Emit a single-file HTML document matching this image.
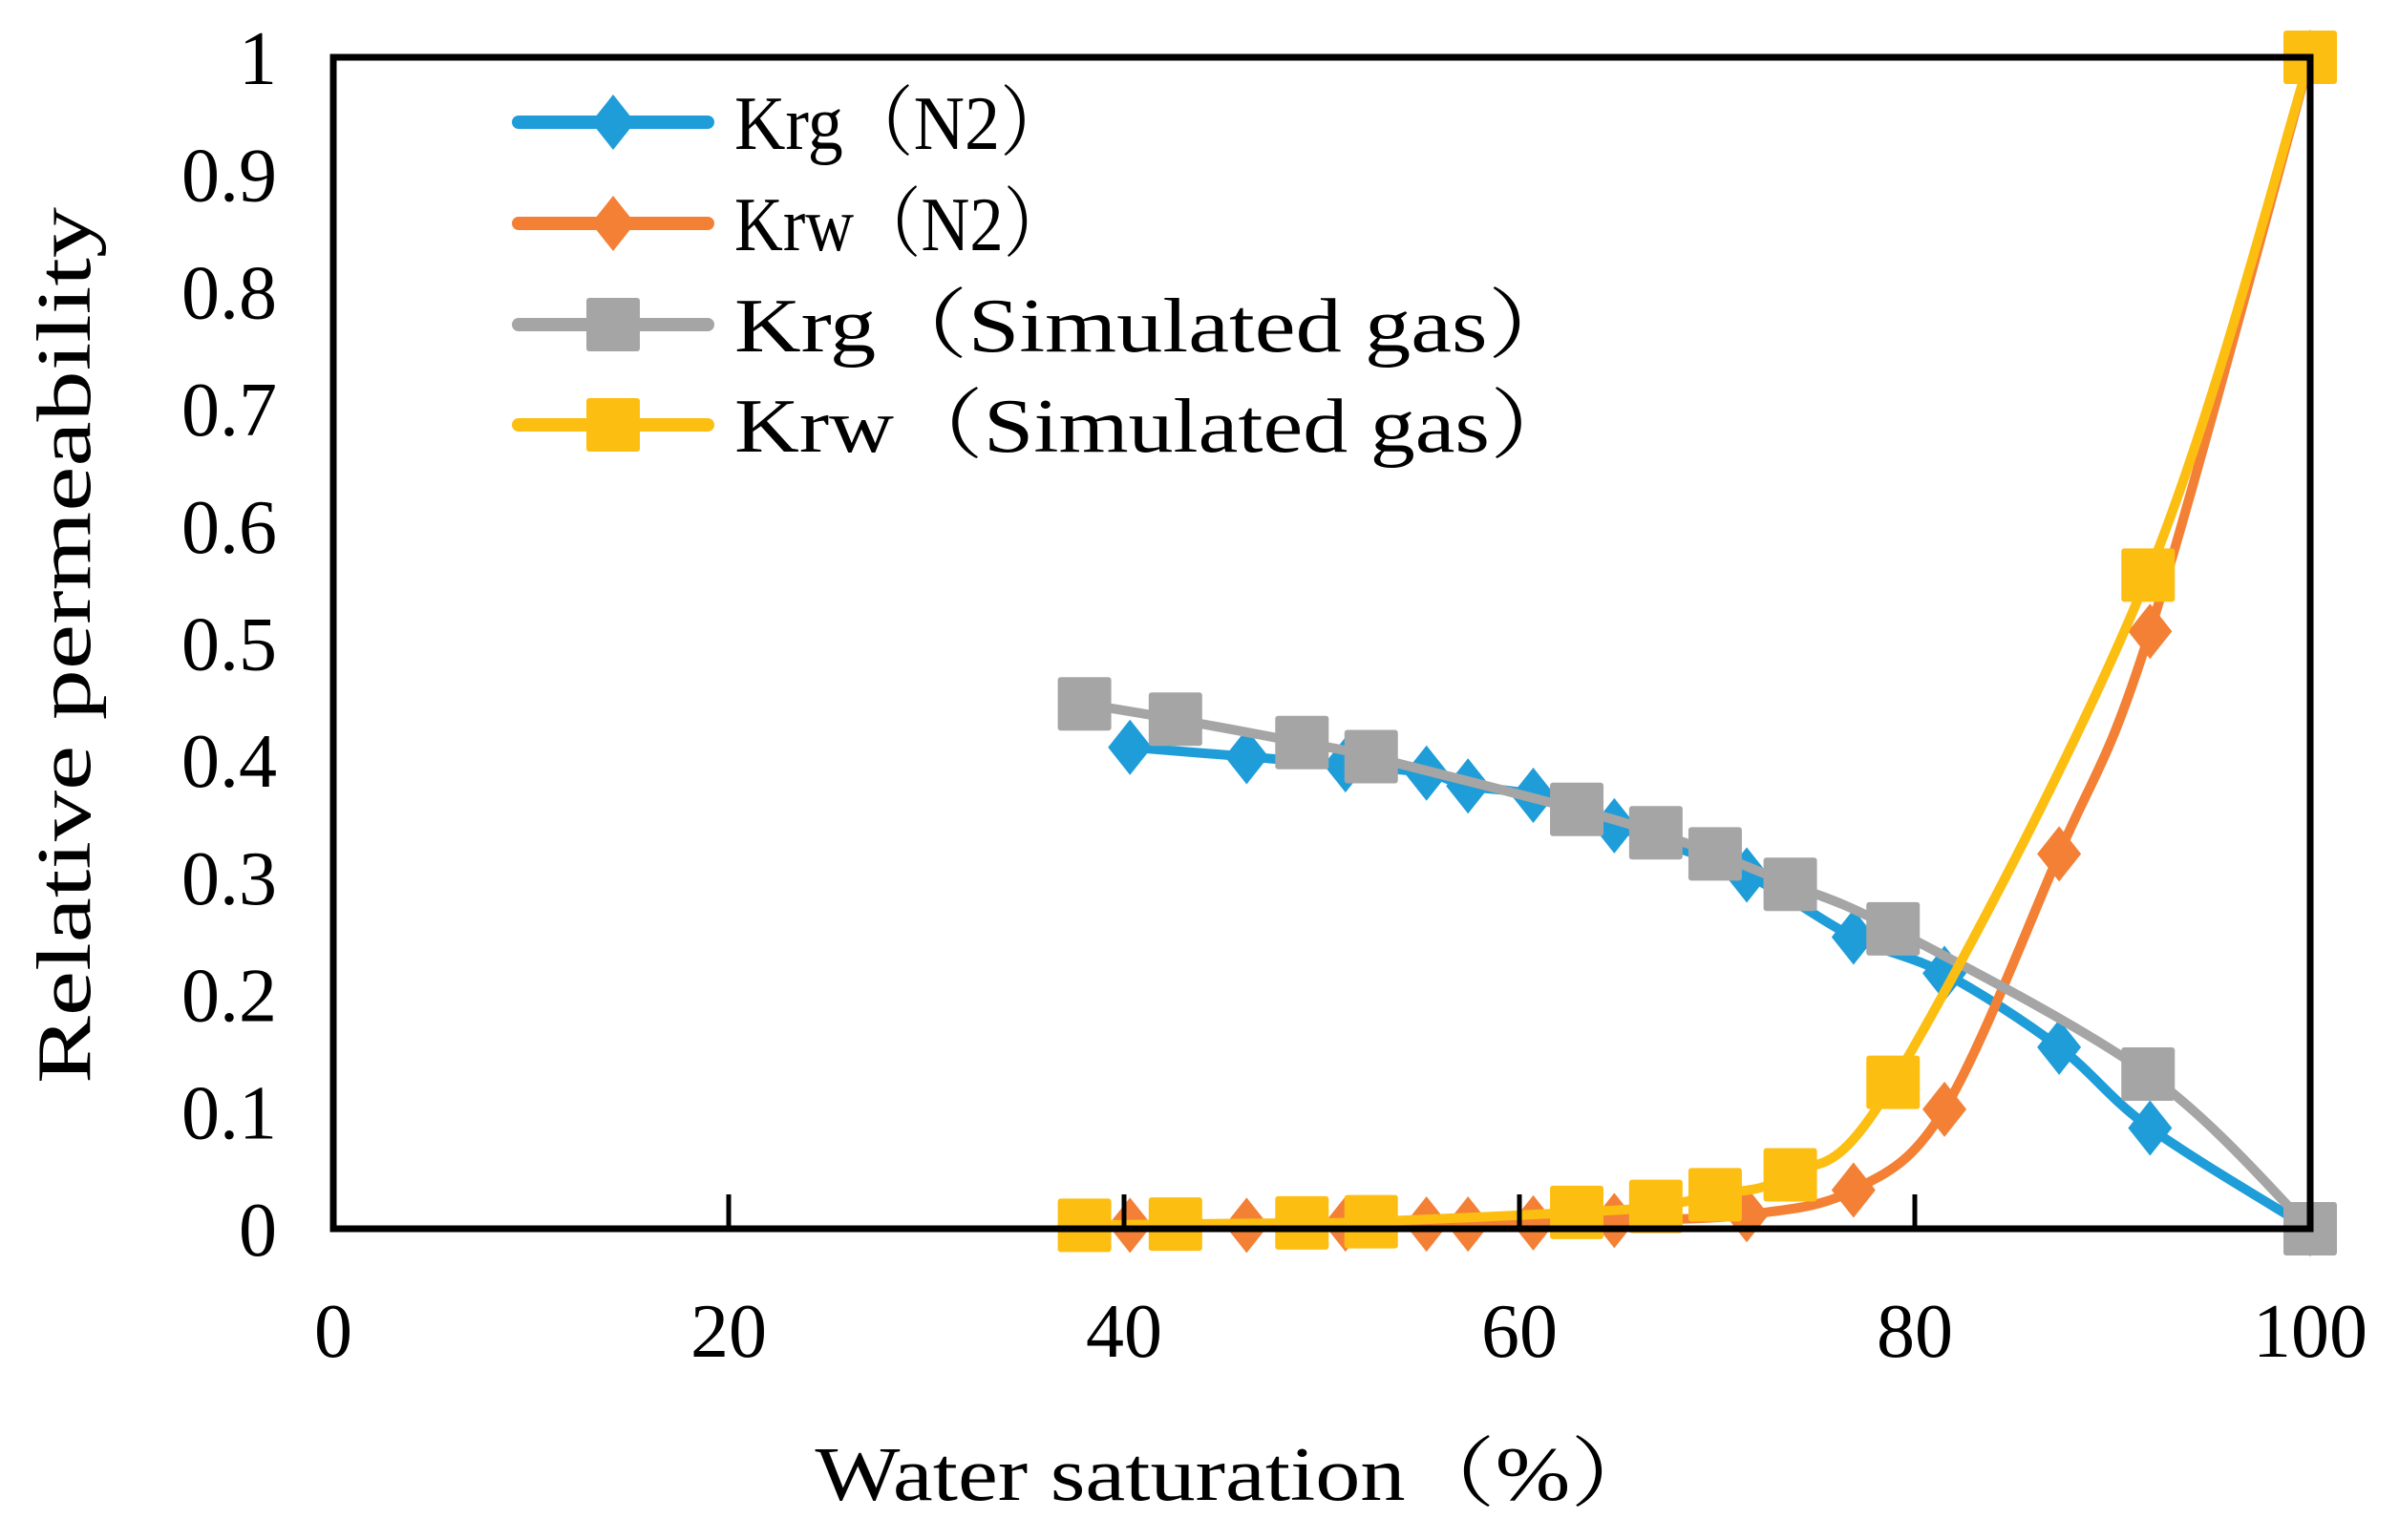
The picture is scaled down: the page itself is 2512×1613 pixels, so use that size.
<!DOCTYPE html>
<html><head><meta charset="utf-8"><style>
html,body{margin:0;padding:0;background:#fff;}
svg{display:block;}
text{font-family:"Liberation Serif","Noto Serif CJK SC",serif;fill:#000;}
</style></head><body>
<svg id="chart" width="2512" height="1613" viewBox="0 0 2512 1613">
<g id="series"></g>
<rect x="349" y="60" width="2070" height="1227" fill="none" stroke="#000" stroke-width="7"/>
<g id="axes"></g>
<g id="legend"></g>
<text x="1296" y="1571" font-size="80" text-anchor="middle" textLength="885" lengthAdjust="spacingAndGlyphs">Water saturation（%）</text>
<text transform="translate(94,676) rotate(-90)" font-size="80" text-anchor="middle" textLength="918" lengthAdjust="spacingAndGlyphs">Relative permeability</text>
</svg>
<script>
const xTicks=[0,20,40,60,80,100];
const yTicks=[0,0.1,0.2,0.3,0.4,0.5,0.6,0.7,0.8,0.9,1];
const yTickLabels=["0","0.1","0.2","0.3","0.4","0.5","0.6","0.7","0.8","0.9","1"];
const n2X=[40.3,46.2,51.2,55.3,57.4,60.7,64.8,71.5,76.9,81.5,87.3,91.9,100];
const krgN2=[0.411,0.403,0.396,0.389,0.378,0.370,0.344,0.302,0.249,0.218,0.155,0.086,0];
const krwN2=[0.003,0.003,0.004,0.004,0.004,0.005,0.007,0.012,0.033,0.102,0.32,0.51,1];
const simX=[38.0,42.6,49.0,52.5,62.9,66.9,69.9,73.7,78.9,91.8,100];
const krgSim=[0.448,0.435,0.415,0.403,0.358,0.338,0.320,0.294,0.256,0.132,0];
const krwSim=[0.003,0.004,0.005,0.006,0.014,0.019,0.029,0.046,0.125,0.558,1];
const seriesNames=["Krg（N2）","Krw（N2）","Krg（Simulated gas）","Krw（Simulated gas）"];

const NS="http://www.w3.org/2000/svg";
const X0=349,X1=2419,Y0=1287,Y1=60;
const sx=v=>X0+(v/100)*(X1-X0);
const sy=v=>Y0-v*(Y0-Y1);
function mk(tag,attrs,parent){const e=document.createElementNS(NS,tag);for(const k in attrs)e.setAttribute(k,attrs[k]);parent.appendChild(e);return e;}
const axes=document.getElementById('axes');
xTicks.forEach((t,i)=>{
  if(t>0&&t<100){const l=mk('line',{x1:sx(t),x2:sx(t),y1:Y0,y2:Y0-36,stroke:'#000','stroke-width':5},axes);
  
  }
  const tx=mk('text',{x:sx(t),y:1421,'font-size':80,'text-anchor':'middle'},axes);
  tx.textContent=String(t);
  
  
});
yTicks.forEach((t,i)=>{
  const tx=mk('text',{x:290,y:sy(t)+28,'font-size':80,'text-anchor':'end'},axes);
  tx.textContent=yTickLabels[i];
  
  
});
function smoothPath(pts){
  let d='M'+pts[0][0]+','+pts[0][1];
  for(let i=0;i<pts.length-1;i++){
    const p0=pts[Math.max(i-1,0)],p1=pts[i],p2=pts[i+1],p3=pts[Math.min(i+2,pts.length-1)];
    const t=1/6;
    d+=' C'+(p1[0]+(p2[0]-p0[0])*t)+','+(p1[1]+(p2[1]-p0[1])*t)+' '+(p2[0]-(p3[0]-p1[0])*t)+','+(p2[1]-(p3[1]-p1[1])*t)+' '+p2[0]+','+p2[1];
  }
  return d;
}
function marker(shape,cx,cy,color,parent){
  if(shape==='d'){return mk('polygon',{points:(cx)+','+(cy-29)+' '+(cx+23)+','+cy+' '+cx+','+(cy+29)+' '+(cx-23)+','+cy,fill:color},parent);}
  return mk('rect',{x:cx-28,y:cy-28,width:56,height:56,rx:3,fill:color},parent);
}
const sg=document.getElementById('series');
const defs=[
 {xs:n2X,ys:krgN2,c:'#1f9dd9',s:'d',n:'krg-n2'},
 {xs:n2X,ys:krwN2,c:'#f38035',s:'d',n:'krw-n2'},
 {xs:simX,ys:krgSim,c:'#a5a5a5',s:'s',n:'krg-simulated'},
 {xs:simX,ys:krwSim,c:'#fdbe12',s:'s',n:'krw-simulated'}
];
defs.forEach(sr=>{
  const g=mk('g',{},sg);
  
  
  const pts=sr.xs.map((x,i)=>[sx(x),sy(sr.ys[i])]);
  const p=mk('path',{d:smoothPath(pts),fill:'none',stroke:sr.c,'stroke-width':10,'stroke-linejoin':'round'},g);
  
  
  pts.forEach((pt,i)=>{const m=marker(sr.s,pt[0],pt[1],sr.c,g);
    
    });
});
const lg=document.getElementById('legend');
const rowsY=[128,234,340,445];
const textLens=[352,352,885,885];
defs.forEach((sr,i)=>{
  const g=mk('g',{},lg);
  
  
  mk('line',{x1:543,x2:741,y1:rowsY[i],y2:rowsY[i],stroke:sr.c,'stroke-width':14,'stroke-linecap':'round'},g);
  marker(sr.s,642,rowsY[i],sr.c,g);
  const t=mk('text',{x:769,y:rowsY[i]+28,'font-size':80,textLength:textLens[i],lengthAdjust:'spacingAndGlyphs'},g);
  t.textContent=seriesNames[i];
});
</script>
</body></html>
